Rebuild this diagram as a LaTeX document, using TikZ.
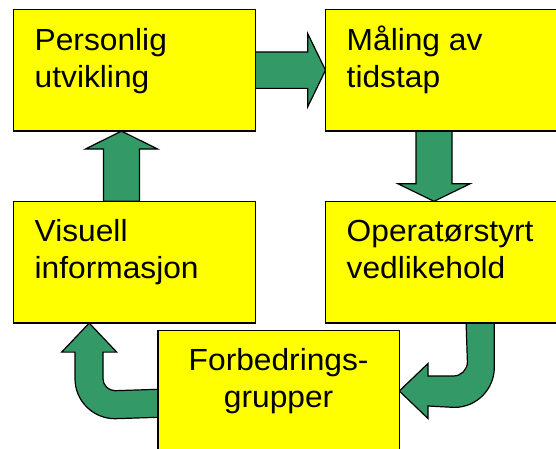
\documentclass[tikz,border=0pt]{standalone}
\usepackage{fontspec}
\setmainfont{Liberation Sans}[FakeStretch=1.04]
\usetikzlibrary{calc}
\definecolor{boxyellow}{RGB}{255,255,0}
\definecolor{arrowgreen}{RGB}{51,153,102}
\begin{document}
\begin{tikzpicture}[x=1pt,y=-1pt,
  box/.style={draw=black, line width=1.3pt, fill=boxyellow, minimum width=240.5pt, minimum height=120.5pt, inner sep=0pt, anchor=north west},
  lbl/.style={font=\fontsize{30.5}{37}\selectfont, inner sep=0pt, anchor=base west, align=left},
  barrow/.style={draw=black, line width=1.2pt, fill=arrowgreen, line join=miter}]
\useasboundingbox (0,0) rectangle (556,449);
\clip (0,0) rectangle (556,449);
% boxes (as nodes)
\path (13.5,9.3) node[box] (p) {};
\path (325.5,9.3) node[box] (m) {};
\path (13.5,201.3) node[box] (v) {};
\path (325.5,201.3) node[box] (o) {};
\path (158,330.7) node[box, minimum width=240pt, minimum height=130pt] (f) {};
% arrows
\coordinate (d1) at ($(m.south west)+(108.5,0)$);
\coordinate (d2) at ($(o.north west)+(108.5,0)$);
\coordinate (u1) at ($(v.north west)+(108,0)$);
\coordinate (u2) at ($(p.south west)+(108,0)$);
\coordinate (c1) at ($(o.south west)+(154.7,0)$);
\coordinate (c2) at ($(f.north east)+(0,60.3)$);
\coordinate (c3) at ($(v.south west)+(75.7,0)$);
\coordinate (c4) at ($(f.north west)+(0,72.6)$);
\draw[barrow] ($(p.east)+(0,-18.2)$) -- ($(m.west)+(-17.7,-18.2)$) -- ($(m.west)+(-17.7,-36.4)$) -- (m.west) -- ($(m.west)+(-17.7,36.4)$) -- ($(m.west)+(-17.7,18.2)$) -- ($(p.east)+(0,18.2)$) -- cycle;
\draw[barrow] ($(d1)+(-18,0)$) -- ($(d2)+(-18,-17.6)$) -- ($(d2)+(-36.2,-17.6)$) -- (d2) -- ($(d2)+(36.2,-17.6)$) -- ($(d2)+(18,-17.6)$) -- ($(d1)+(18,0)$) -- cycle;
\draw[barrow] ($(u1)+(-18,0)$) -- ($(u2)+(-18,18)$) -- ($(u2)+(-36.2,18)$) -- (u2) -- ($(u2)+(36.2,18)$) -- ($(u2)+(18,18)$) -- ($(u1)+(18,0)$) -- cycle;
\draw[barrow] ($(c1)+(14.1,0)$) -- ($(c1)+(14.1,44.3)$) arc[start angle=0, end angle=90, radius=40] -- ($(c2)+(28.7,15)$) -- ($(c2)+(28.7,27.5)$) -- (c2) -- ($(c2)+(28.7,-27.5)$) -- ($(c2)+(28.7,-15)$) -- ($(c2)+(54.1,-15)$) arc[start angle=90, end angle=0, radius=14] -- ($(c1)+(-14.1,0)$) -- cycle;
\draw[barrow] ($(c4)+(0,-14)$) -- ($(c3)+(25.8,67.6)$) arc[start angle=90, end angle=180, radius=12] -- ($(c3)+(13.8,29)$) -- ($(c3)+(27.5,29)$) -- (c3) -- ($(c3)+(-27.5,29)$) -- ($(c3)+(-14.2,29)$) -- ($(c3)+(-14.2,55.6)$) arc[start angle=180, end angle=90, radius=40] -- ($(c4)+(0,14)$) -- cycle;
% boxes redrawn on top of the arrow bases
\draw[line width=1.3pt, fill=boxyellow] (p.north west) rectangle (p.south east);
\draw[line width=1.3pt, fill=boxyellow] (m.north west) rectangle (m.south east);
\draw[line width=1.3pt, fill=boxyellow] (v.north west) rectangle (v.south east);
\draw[line width=1.3pt, fill=boxyellow] (o.north west) rectangle (o.south east);
\draw[line width=1.3pt, fill=boxyellow] (f.north west) rectangle (f.south east);
% labels (anchor = baseline of the last line)
\node[lbl] (pt) at ($(p.north west)+(21,78)$) {Personlig\\utvikling};
\node[lbl] (mt) at ($(m.north west)+(21,78)$) {Måling av\\tidstap};
\node[lbl] (vt) at ($(v.north west)+(21,77)$) {Visuell\\informasjon};
\node[lbl] (ot) at ($(o.north west)+(21,77)$) {Operatørstyrt\\vedlikehold};
\node[lbl, anchor=base, align=center] (ft) at ($(f.north)+(0,76.6)$) {Forbedrings-\\grupper};
\end{tikzpicture}
\end{document}
